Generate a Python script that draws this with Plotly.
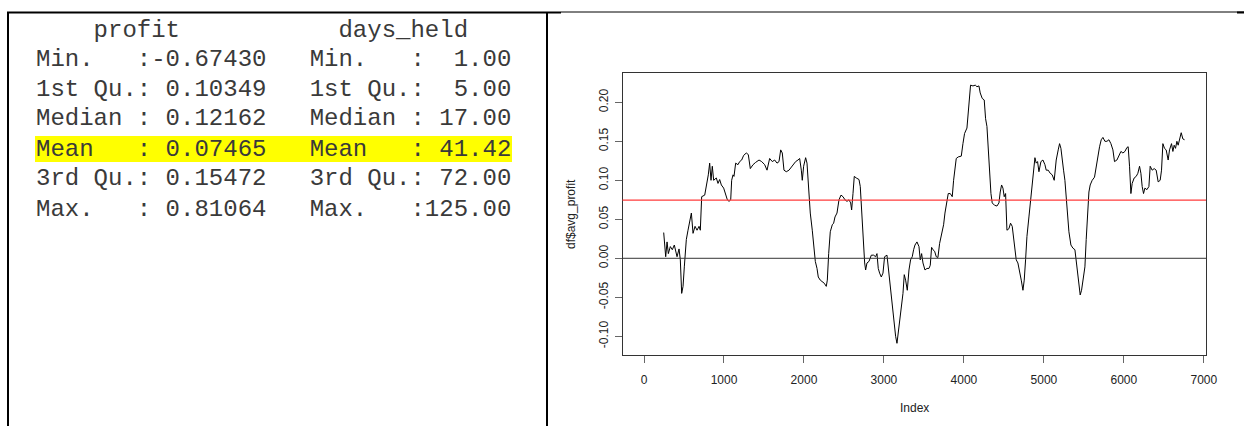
import plotly.graph_objects as go

# ---------------- data ----------------
stat_labels = ["Min.   ", "1st Qu.", "Median ", "Mean   ", "3rd Qu.", "Max.   "]
profit_values = ["-0.67430", " 0.10349", " 0.12162", " 0.07465", " 0.15472", " 0.81064"]
days_values = ["  1.00", "  5.00", " 17.00", " 41.42", " 72.00", "125.00"]
col_headers = ["profit", "days_held"]

mean_profit = 0.07465

index_vals = [246, 271, 288, 304, 329, 354, 379, 396, 413, 438, 454, 471, 488, 504, 529, 550, 571, 592, 613,
              638, 663, 688, 704, 721, 759, 779, 804, 821, 838, 854, 871, 904, 925, 946, 967, 996, 1021, 1042,
              1063, 1084, 1096, 1113, 1125, 1146, 1175, 1196, 1221, 1246, 1279, 1304, 1329, 1363, 1396, 1438,
              1471, 1509, 1538, 1571, 1604, 1634, 1663, 1688, 1709, 1729, 1750, 1779, 1813, 1854, 1896, 1925,
              1946, 1967, 1979, 1996, 2021, 2038, 2063, 2079, 2104, 2125, 2142, 2163, 2179, 2204, 2229, 2254,
              2279, 2292, 2309, 2329, 2354, 2371, 2388, 2413, 2438, 2463, 2488, 2513, 2538, 2563, 2584, 2596,
              2613, 2629, 2654, 2688, 2704, 2721, 2738, 2759, 2771, 2788, 2813, 2842, 2871, 2896, 2913, 2929,
              2946, 2967, 2988, 3008, 3038, 3063, 3092, 3121, 3146, 3163, 3188, 3217, 3238, 3254, 3271, 3292,
              3313, 3333, 3354, 3371, 3388, 3413, 3438, 3454, 3471, 3488, 3513, 3538, 3563, 3579, 3596, 3613,
              3634, 3654, 3675, 3696, 3721, 3746, 3763, 3788, 3804, 3829, 3854, 3871, 3888, 3904, 3929, 3967,
              3988, 4008, 4038, 4054, 4071, 4083, 4113, 4142, 4163, 4188, 4204, 4229, 4254, 4271, 4288, 4304,
              4321, 4338, 4354, 4383, 4413, 4438, 4454, 4471, 4488, 4504, 4521, 4538, 4563, 4583, 4604, 4621,
              4638, 4654, 4675, 4696, 4717, 4738, 4754, 4771, 4788, 4813, 4833, 4854, 4871, 4888, 4904, 4921,
              4938, 4963, 4988, 5013, 5029, 5054, 5079, 5104, 5129, 5154, 5179, 5196, 5213, 5229, 5246, 5263,
              5279, 5296, 5313, 5338, 5363, 5388, 5404, 5421, 5438, 5454, 5471, 5496, 5513, 5529, 5546, 5563,
              5579, 5604, 5633, 5654, 5675, 5696, 5717, 5738, 5763, 5788, 5813, 5838, 5863, 5883, 5913, 5938,
              5963, 5988, 6013, 6038, 6054, 6071, 6088, 6104, 6129, 6154, 6175, 6196, 6213, 6229, 6246, 6263,
              6288, 6313, 6329, 6354, 6379, 6404, 6429, 6454, 6471, 6488, 6508, 6529, 6554, 6571, 6596, 6613,
              6629, 6646, 6663, 6679, 6696, 6717, 6738, 6759]

avg_profit = [0.033, 0.002, 0.021, 0.006, 0.015, 0.011, 0.017, 0.009, 0.002, 0.012, -0.002, -0.045, -0.036,
              -0.011, 0.024, 0.036, 0.045, 0.058, 0.032, 0.041, 0.036, 0.041, 0.036, 0.079, 0.081, 0.092,
              0.107, 0.122, 0.100, 0.118, 0.100, 0.103, 0.096, 0.101, 0.094, 0.090, 0.083, 0.075, 0.073,
              0.075, 0.100, 0.107, 0.105, 0.122, 0.120, 0.124, 0.126, 0.132, 0.135, 0.133, 0.115, 0.120,
              0.123, 0.126, 0.124, 0.120, 0.113, 0.128, 0.124, 0.126, 0.122, 0.124, 0.139, 0.135, 0.113,
              0.111, 0.113, 0.118, 0.124, 0.126, 0.128, 0.113, 0.100, 0.118, 0.129, 0.122, 0.083, 0.058,
              0.036, 0.011, -0.004, -0.013, -0.024, -0.028, -0.030, -0.032, -0.036, -0.028, 0.006, 0.034,
              0.043, 0.045, 0.053, 0.058, 0.075, 0.081, 0.079, 0.075, 0.073, 0.075, 0.071, 0.062, 0.083,
              0.105, 0.103, 0.101, 0.092, 0.062, 0.024, -0.006, -0.015, -0.006, -0.004, 0.004, 0.004, 0.002,
              0.006, -0.013, -0.019, -0.024, -0.019, 0.002, 0.004, -0.019, -0.053, -0.075, -0.100, -0.109,
              -0.088, -0.066, -0.045, -0.021, -0.028, -0.041, -0.015, -0.002, 0.002, 0.011, 0.017, 0.021,
              0.015, -0.002, 0.006, -0.006, -0.015, -0.013, -0.013, -0.009, 0.014, 0.011, 0.009, 0.002,
              0.001, 0.019, 0.032, 0.043, 0.058, 0.075, 0.083, 0.083, 0.079, 0.100, 0.118, 0.128, 0.130,
              0.131, 0.147, 0.160, 0.167, 0.186, 0.212, 0.222, 0.221, 0.222, 0.220, 0.221, 0.212, 0.205,
              0.203, 0.179, 0.169, 0.139, 0.105, 0.083, 0.071, 0.068, 0.067, 0.071, 0.085, 0.094, 0.090,
              0.079, 0.083, 0.036, 0.038, 0.045, 0.041, 0.028, 0.011, -0.002, -0.006, -0.015, -0.028,
              -0.041, -0.028, -0.002, 0.028, 0.053, 0.075, 0.100, 0.118, 0.129, 0.122, 0.124, 0.111, 0.124,
              0.126, 0.120, 0.113, 0.113, 0.109, 0.107, 0.100, 0.126, 0.139, 0.147, 0.141, 0.130, 0.113,
              0.100, 0.079, 0.058, 0.034, 0.017, 0.013, 0.011, -0.002, -0.019, -0.036, -0.047, -0.041,
              -0.019, -0.011, 0.024, 0.053, 0.085, 0.094, 0.100, 0.104, 0.118, 0.132, 0.143, 0.152, 0.155,
              0.150, 0.150, 0.152, 0.147, 0.139, 0.124, 0.126, 0.132, 0.137, 0.135, 0.137, 0.142, 0.143,
              0.118, 0.083, 0.096, 0.103, 0.105, 0.109, 0.118, 0.109, 0.092, 0.083, 0.090, 0.088, 0.092,
              0.118, 0.113, 0.115, 0.113, 0.098, 0.100, 0.113, 0.147, 0.141, 0.139, 0.126, 0.139, 0.147,
              0.137, 0.145, 0.141, 0.150, 0.145, 0.154, 0.161, 0.153, 0.152]

x_ticks = [0, 1000, 2000, 3000, 4000, 5000, 6000, 7000]
y_ticks = [-0.10, -0.05, 0.00, 0.05, 0.10, 0.15, 0.20]

# ---------------- page geometry ----------------
W, H = 1244, 426


def px(x):
    return x / W


def py(y):
    return 1 - y / H


fig = go.Figure()

fig.add_trace(go.Scatter(x=index_vals, y=avg_profit, mode="lines",
                         line=dict(color="black", width=1), showlegend=False, hoverinfo="skip"))

fig.add_hline(y=0, line=dict(color="#333333", width=1))
fig.add_hline(y=mean_profit, line=dict(color="#ff3b3b", width=1.3))

axis_font = dict(family="Liberation Sans, Arial, sans-serif", size=12, color="#222222")

fig.update_layout(
    width=W, height=H, autosize=False,
    margin=dict(l=0, r=0, t=0, b=0),
    paper_bgcolor="white", plot_bgcolor="white",
    xaxis=dict(domain=[px(622.5), px(1206)], range=[-269, 7027],
               tickvals=x_ticks, ticktext=[str(v) for v in x_ticks],
               showline=True, mirror=True, linecolor="#333333", linewidth=1,
               ticks="outside", ticklen=7, tickcolor="#666666", tickwidth=1,
               ticklabelstandoff=7,
               showgrid=False, zeroline=False, tickfont=axis_font, automargin=False),
    yaxis=dict(domain=[py(355), py(73.3)], range=[-0.1240, 0.2372],
               tickvals=y_ticks, ticktext=[f"{v:.2f}" for v in y_ticks], tickangle=-90,
               showline=True, mirror=True, linecolor="#333333", linewidth=1,
               ticks="outside", ticklen=7, tickcolor="#666666", tickwidth=1,
               ticklabelstandoff=2,
               showgrid=False, zeroline=False, tickfont=axis_font, automargin=False),
)

# axis titles
fig.add_annotation(text="Index", x=px(914), y=py(408), xref="paper", yref="paper",
                   showarrow=False, font=axis_font, xanchor="center", yanchor="middle")
fig.add_annotation(text="df$avg_profit", x=px(571), y=py(214), xref="paper", yref="paper",
                   showarrow=False, font=axis_font, textangle=-90, xanchor="center", yanchor="middle")

# ---------------- table (R summary output) ----------------
shapes = []
# highlight of the Mean row
shapes.append(dict(type="rect", xref="paper", yref="paper", x0=px(35), x1=px(512), y0=py(162), y1=py(136),
                   fillcolor="#ffff00", line=dict(width=0), layer="below"))
# borders
shapes.append(dict(type="line", xref="paper", yref="paper", x0=px(8), x1=px(8), y0=py(12), y1=py(430),
                   line=dict(color="black", width=2)))
shapes.append(dict(type="line", xref="paper", yref="paper", x0=px(547), x1=px(547), y0=py(12), y1=py(430),
                   line=dict(color="black", width=2)))
shapes.append(dict(type="line", xref="paper", yref="paper", x0=px(7), x1=px(561), y0=py(12.5), y1=py(12.5),
                   line=dict(color="black", width=2)))
shapes.append(dict(type="line", xref="paper", yref="paper", x0=px(561), x1=px(1244), y0=py(12), y1=py(12),
                   line=dict(color="black", width=1)))
shapes.append(dict(type="line", xref="paper", yref="paper", x0=px(1237), x1=px(1244), y0=py(12.5), y1=py(12.5),
                   line=dict(color="black", width=2)))
for s in shapes:
    fig.add_shape(**s)

mono = dict(family="Courier New, Liberation Mono, monospace", size=24, color="#3a3a3a")
NB = "\u00a0"

header = " " * 4 + col_headers[0] + " " * 11 + col_headers[1]
rows = [header] + [f"{lab}:{pv}   {lab}:{dv}" for lab, pv, dv in zip(stat_labels, profit_values, days_values)]
row_y = [30.5, 59, 89, 119, 149, 179, 209]
for txt, yy in zip(rows, row_y):
    fig.add_annotation(text=txt.replace(" ", NB), x=px(33.5), y=py(yy), xref="paper", yref="paper",
                       showarrow=False, font=mono, xanchor="left", yanchor="middle")

fig.write_html("out.html")
